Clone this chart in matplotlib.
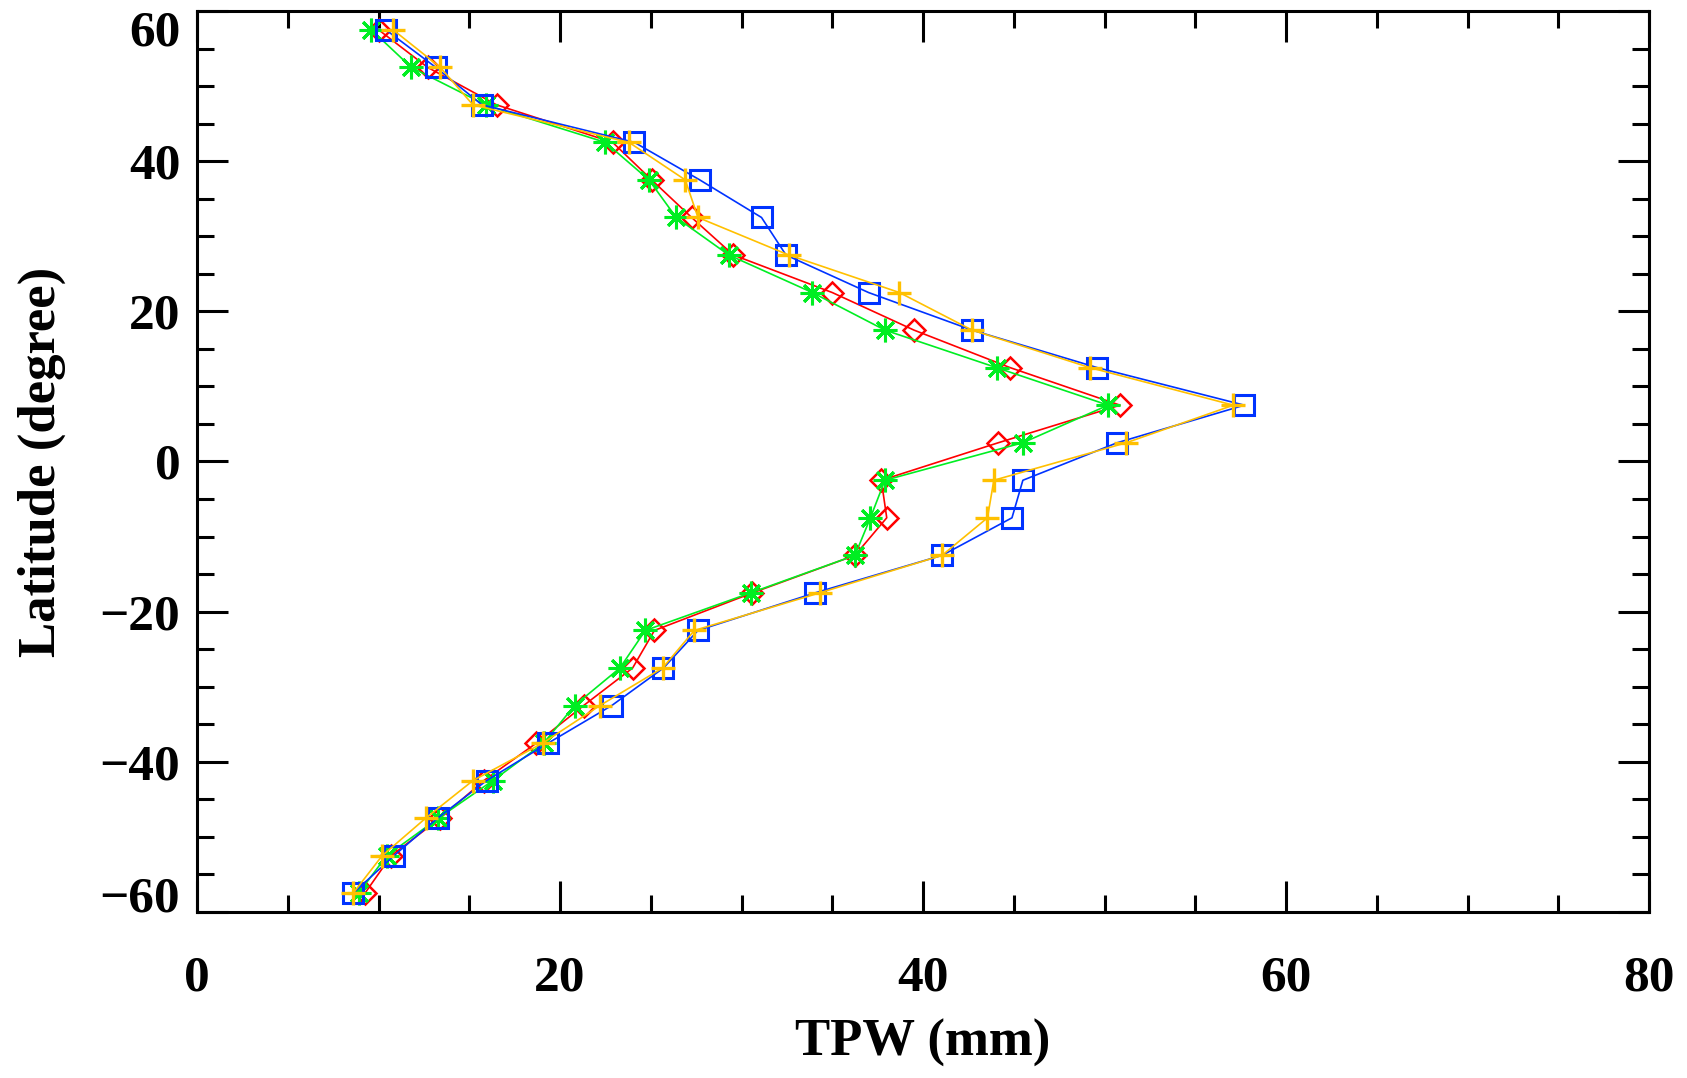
"""Zonal-mean TPW vs latitude, four products overlaid."""
import matplotlib
matplotlib.use("Agg")
import matplotlib.pyplot as plt
from matplotlib.ticker import MultipleLocator

# latitude bin centres (deg)
lat = [57.5, 52.5, 47.5, 42.5, 37.5, 32.5, 27.5, 22.5, 17.5, 12.5, 7.5, 2.5,
       -2.5, -7.5, -12.5, -17.5, -22.5, -27.5, -32.5, -37.5, -42.5, -47.5, -52.5, -57.5]

# TPW (mm) per product
tpw_red = [10.0, 12.7, 16.5, 22.9, 25.05, 27.25, 29.55, 35.0, 39.5, 44.8, 50.85, 44.15,
           37.7, 38.0, 36.25, 30.6, 25.2, 24.0, 21.3, 18.7, 15.8, 13.4, 10.7, 9.25]
tpw_green = [9.6, 11.8, 15.9, 22.5, 24.9, 26.4, 29.3, 33.9, 37.9, 44.05, 50.2, 45.5,
             37.9, 37.1, 36.25, 30.5, 24.7, 23.3, 20.8, 19.1, 16.3, 13.3, 10.45, 8.9]
tpw_blue = [10.4, 13.15, 15.7, 24.1, 27.7, 31.1, 32.45, 37.0, 42.7, 49.6, 57.7, 50.7,
            45.5, 44.9, 41.05, 34.05, 27.6, 25.7, 22.85, 19.35, 15.95, 13.25, 10.85, 8.6]
tpw_orange = [10.8, 13.4, 15.2, 23.8, 26.9, 27.6, 32.6, 38.7, 42.7, 49.2, 57.1, 51.2,
              43.9, 43.55, 41.05, 34.3, 27.4, 25.65, 22.2, 19.05, 15.2, 12.6, 10.2, 8.6]

FONT = dict(family="Liberation Serif", weight="bold")


def main() -> None:
    fig = plt.figure(figsize=(16.87, 10.78), dpi=100)
    ax = fig.add_axes([0.1168, 0.154, 0.8607, 0.8358])

    ax.plot(tpw_red, lat, color="#ff0000", lw=1.2, marker="D", ms=11,
            mfc="none", mec="#ff0000", mew=1.8)
    ax.plot(tpw_green, lat, color="#00ee22", lw=1.2, marker=(8, 2, 0), ms=17,
            mec="#00ee22", mew=2.2)
    ax.plot(tpw_blue, lat, color="#0033ff", lw=1.2, marker="s", ms=14,
            mfc="none", mec="#0033ff", mew=2.2)
    ax.plot(tpw_orange, lat, color="#ffc000", lw=1.2, marker="+", ms=17,
            mec="#ffc000", mew=2.4)

    ax.set_xlim(0, 80)
    ax.set_ylim(-60, 60)
    ax.xaxis.set_major_locator(MultipleLocator(20))
    ax.xaxis.set_minor_locator(MultipleLocator(5))
    ax.yaxis.set_major_locator(MultipleLocator(20))
    ax.yaxis.set_minor_locator(MultipleLocator(5))

    for s in ax.spines.values():
        s.set_linewidth(2.2)
    ax.tick_params(which="both", direction="in", top=True, right=True, width=2.2)
    ax.tick_params(which="major", length=22)
    ax.tick_params(which="minor", length=12)
    ax.tick_params(axis="x", pad=31)
    ax.tick_params(axis="y", pad=12)

    fig.canvas.draw()
    for lab in ax.get_xticklabels() + ax.get_yticklabels():
        lab.set_fontfamily(FONT["family"])
        lab.set_fontweight("bold")
        lab.set_fontsize(37)
    # IDL-style: end labels pulled inside the axis range
    for lab in ax.get_yticklabels():
        if lab.get_text() == "60":
            lab.set_va("top")
        elif lab.get_text() in ("\u221260", "-60"):
            lab.set_va("baseline")

    ax.set_xlabel("TPW (mm)", fontsize=38, va="center", **FONT)
    ax.set_ylabel("Latitude (degree)", fontsize=38, va="center", **FONT)
    ax.xaxis.set_label_coords(0.5, -0.145)
    ax.yaxis.set_label_coords(-0.107, 0.5)

    fig.savefig("out.png", dpi=100)


if __name__ == "__main__":
    main()
